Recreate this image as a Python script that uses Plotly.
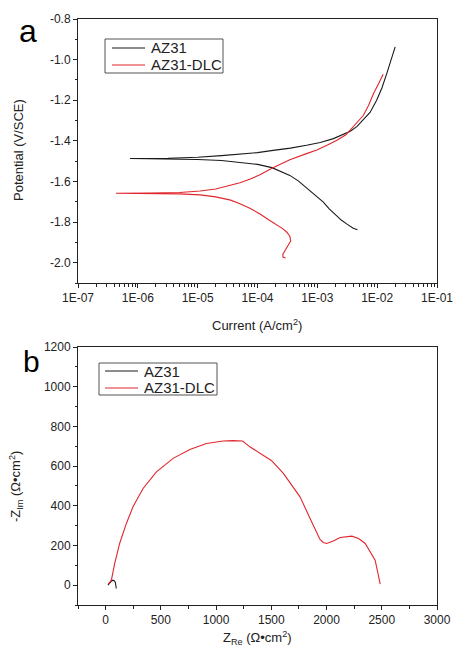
import plotly.graph_objects as go

# ---------------- data: polarization curves (a) ----------------
az31_current = [4.68e-3, 3.98e-3, 3.09e-3, 2.51e-3, 2.09e-3, 1.58e-3, 1.26e-3, 8.9e-4, 6.6e-4,
                4.8e-4, 3.47e-4, 2.4e-4, 1.74e-4, 1.0e-4, 5.1e-5, 2.5e-5, 1.0e-5, 3.2e-6, 7.4e-7,
                3.2e-6, 1.0e-5, 2.5e-5, 5.1e-5, 1.0e-4, 1.82e-4, 3.55e-4, 6.6e-4, 1.12e-3, 1.86e-3,
                2.63e-3, 3.55e-3, 4.57e-3, 5.75e-3, 7.6e-3, 9.8e-3, 1.2e-2, 1.45e-2, 1.7e-2, 2.0e-2]
az31_potential = [-1.838, -1.830, -1.809, -1.790, -1.768, -1.735, -1.702, -1.663, -1.628,
                  -1.597, -1.570, -1.548, -1.532, -1.516, -1.505, -1.497, -1.492, -1.489, -1.487,
                  -1.486, -1.481, -1.473, -1.467, -1.458, -1.447, -1.436, -1.422, -1.408, -1.389,
                  -1.370, -1.353, -1.330, -1.300, -1.260, -1.200, -1.140, -1.068, -1.000, -0.937]

dlc_current = [2.95e-4, 2.66e-4, 2.66e-4, 2.88e-4, 3.24e-4, 3.59e-4, 3.47e-4, 3.09e-4, 2.63e-4,
               2.09e-4, 1.51e-4, 1.10e-4, 7.6e-5, 5.1e-5, 3.55e-5, 2.0e-5, 1.1e-5, 5.0e-6, 1.6e-6,
               4.3e-7, 1.6e-6, 5.0e-6, 1.1e-5, 2.0e-5, 3.1e-5, 5.1e-5, 7.6e-5, 1.10e-4, 1.74e-4,
               2.5e-4, 3.47e-4, 6.6e-4, 9.8e-4, 1.45e-3, 2.09e-3, 3.0e-3, 3.98e-3, 5.0e-3, 5.9e-3,
               7.2e-3, 8.7e-3, 1.05e-2, 1.26e-2]
dlc_potential = [-1.977, -1.972, -1.958, -1.940, -1.918, -1.893, -1.870, -1.850, -1.832,
                 -1.815, -1.787, -1.760, -1.733, -1.710, -1.692, -1.676, -1.666, -1.661, -1.659,
                 -1.658, -1.657, -1.654, -1.647, -1.637, -1.624, -1.606, -1.588, -1.567, -1.535,
                 -1.512, -1.493, -1.463, -1.445, -1.422, -1.398, -1.370, -1.332, -1.300, -1.274,
                 -1.225, -1.167, -1.120, -1.072]

# ---------------- data: Nyquist plots (b) ----------------
az31_zre = [21, 35, 52, 66, 80, 88, 94, 97]
az31_zim = [0, 12, 20, 25, 21, 14, 0, -17]

dlc_zre = [25, 52, 82, 127, 188, 248, 339, 460, 611, 762, 913, 1064, 1150, 1240, 1306, 1397,
           1503, 1609, 1760, 1851, 1941, 1970, 2002, 2062, 2123, 2229, 2290, 2350, 2440, 2486]
dlc_zim = [5, 25, 109, 210, 311, 395, 487, 571, 639, 684, 714, 726, 728, 726, 697, 664,
           627, 563, 445, 336, 230, 215, 210, 222, 240, 247, 235, 210, 126, 5]

# ---------------- tick labels / legend entries ----------------
cur_tickvals = [1e-7, 1e-6, 1e-5, 1e-4, 1e-3, 1e-2, 1e-1]
cur_ticktext = ["1E-07", "1E-06", "1E-05", "1E-04", "1E-03", "1E-02", "1E-01"]
pot_tickvals = [-2.0, -1.8, -1.6, -1.4, -1.2, -1.0, -0.8]
pot_ticktext = ["-2.0", "-1.8", "-1.6", "-1.4", "-1.2", "-1.0", "-0.8"]
zre_tickvals = [0, 500, 1000, 1500, 2000, 2500, 3000]
zim_tickvals = [0, 200, 400, 600, 800, 1000, 1200]
series_names = ["AZ31", "AZ31-DLC"]

BLACK = "#1a1a1a"
RED = "#e0262c"
COLORS = [BLACK, RED]
FONT = "Arial, Liberation Sans, sans-serif"
AX = "#222"

fig = go.Figure()
fig.add_trace(go.Scatter(x=az31_current, y=az31_potential, mode="lines", name=series_names[0],
                         line=dict(color=BLACK, width=1.1), xaxis="x", yaxis="y"))
fig.add_trace(go.Scatter(x=dlc_current, y=dlc_potential, mode="lines", name=series_names[1],
                         line=dict(color=RED, width=1.1), xaxis="x", yaxis="y"))
fig.add_trace(go.Scatter(x=az31_zre, y=az31_zim, mode="lines", name=series_names[0],
                         line=dict(color=BLACK, width=1.1), xaxis="x2", yaxis="y2"))
fig.add_trace(go.Scatter(x=dlc_zre, y=dlc_zim, mode="lines", name=series_names[1],
                         line=dict(color=RED, width=1.1), xaxis="x2", yaxis="y2"))
# invisible trace to activate the log minor-tick overlay axis
fig.add_trace(go.Scatter(x=[cur_tickvals[0], cur_tickvals[-1]], y=[-2.1, -2.1], mode="lines",
                         xaxis="x3", yaxis="y", line=dict(width=0), hoverinfo="skip", opacity=0))

axis_common = dict(showline=True, linecolor=AX, linewidth=1, mirror=True, showgrid=False,
                   zeroline=False, ticks="outside", ticklen=4, tickwidth=1, tickcolor=AX,
                   automargin=False, ticklabeloverflow="allow",
                   tickfont=dict(family=FONT, size=12, color=AX))

# pixel layout: plot areas x 78..437; top y 19..283; bottom y 347..605
W, H = 453, 648
L, R, T, B = 78, 16, 19, 43
H_TOT = H - T - B
W_TOT = W - L - R
top_dom = [(605 - 283) / H_TOT, 1.0]
bot_dom = [0.0, (605 - 347) / H_TOT]

fig.update_layout(
    width=W, height=H, autosize=False,
    margin=dict(l=L, r=R, t=T, b=B, pad=0),
    paper_bgcolor="white", plot_bgcolor="white",
    font=dict(family=FONT, color=AX),
    showlegend=False,
    xaxis=dict(type="log", range=[-7, -1], domain=[0, 1], anchor="y",
               tickmode="array", tickvals=cur_tickvals, ticktext=cur_ticktext,
               **axis_common),
    xaxis3=dict(type="log", range=[-7, -1], overlaying="x", anchor="y", side="bottom",
                dtick="D1", showticklabels=False, showline=False, showgrid=False,
                zeroline=False, ticks="outside", ticklen=2.5, tickwidth=1, tickcolor=AX,
                automargin=False),
    yaxis=dict(range=[-2.1, -0.8], domain=top_dom, anchor="x",
               tickmode="array", tickvals=pot_tickvals, ticktext=pot_ticktext,
               minor=dict(dtick=0.1, tick0=-0.8, ticks="outside", ticklen=2.5, tickcolor=AX),
               **axis_common),
    xaxis2=dict(range=[-250, 3000], domain=[0, 1], anchor="y2",
                tickmode="array", tickvals=zre_tickvals,
                minor=dict(dtick=250, tick0=0, ticks="outside", ticklen=2.5, tickcolor=AX),
                **axis_common),
    yaxis2=dict(range=[-100, 1200], domain=bot_dom, anchor="x2",
                tickmode="array", tickvals=zim_tickvals,
                minor=dict(dtick=100, tick0=0, ticks="outside", ticklen=2.5, tickcolor=AX),
                **axis_common),
)

def px_x(px):
    return (px - L) / W_TOT

def px_y(py):
    return (605 - py) / H_TOT

annotations = [
    dict(text="a", x=px_x(28), y=px_y(31), font=dict(size=32, family=FONT, color="black")),
    dict(text="b", x=px_x(31), y=px_y(362), font=dict(size=30, family=FONT, color="black")),
    dict(text="Current (A/cm<sup>2</sup>)", x=px_x(257), y=px_y(325),
         font=dict(size=13, family=FONT, color=AX)),
    dict(text="Potential (V/SCE)", x=px_x(18), y=px_y(150), textangle=-90,
         font=dict(size=13, family=FONT, color=AX)),
    dict(text="-Z<sub>Im</sub> (Ω•cm<sup>2</sup>)", x=px_x(16), y=px_y(487), textangle=-90,
         font=dict(size=13, family=FONT, color=AX)),
    dict(text="Z<sub>Re</sub> (Ω•cm<sup>2</sup>)", x=px_x(257), y=px_y(638),
         font=dict(size=13, family=FONT, color=AX)),
]
for a in annotations:
    a.update(xanchor="center", yanchor="middle")

# legend boxes drawn like the original (compact Origin-style legends)
shapes = []
legend_boxes = [  # (box x0, y0, x1, y1, line x0, line x1, text x, row y's)
    (105, 39, 223, 73, 112, 145, 149, [48, 65]),
    (99, 363, 217, 395, 105, 138, 142, [371, 388]),
]
for bx0, by0, bx1, by1, lx0, lx1, tx, rows in legend_boxes:
    shapes.append(dict(type="rect", xref="paper", yref="paper",
                       x0=px_x(bx0), x1=px_x(bx1), y0=px_y(by1), y1=px_y(by0),
                       line=dict(color="#555", width=1), fillcolor="white", layer="above"))
    for name, col, ry in zip(series_names, COLORS, rows):
        shapes.append(dict(type="line", xref="paper", yref="paper",
                           x0=px_x(lx0), x1=px_x(lx1), y0=px_y(ry), y1=px_y(ry),
                           line=dict(color=col, width=1.1), layer="above"))
        annotations.append(dict(text=name, x=px_x(tx), y=px_y(ry), xanchor="left",
                                yanchor="middle", font=dict(size=15, family=FONT, color=AX)))

for a in annotations:
    a.update(xref="paper", yref="paper", showarrow=False)
fig.update_layout(annotations=annotations, shapes=shapes)

fig.write_html("out.html", config={"displayModeBar": False},
               post_script="document.body.style.margin='0';")
